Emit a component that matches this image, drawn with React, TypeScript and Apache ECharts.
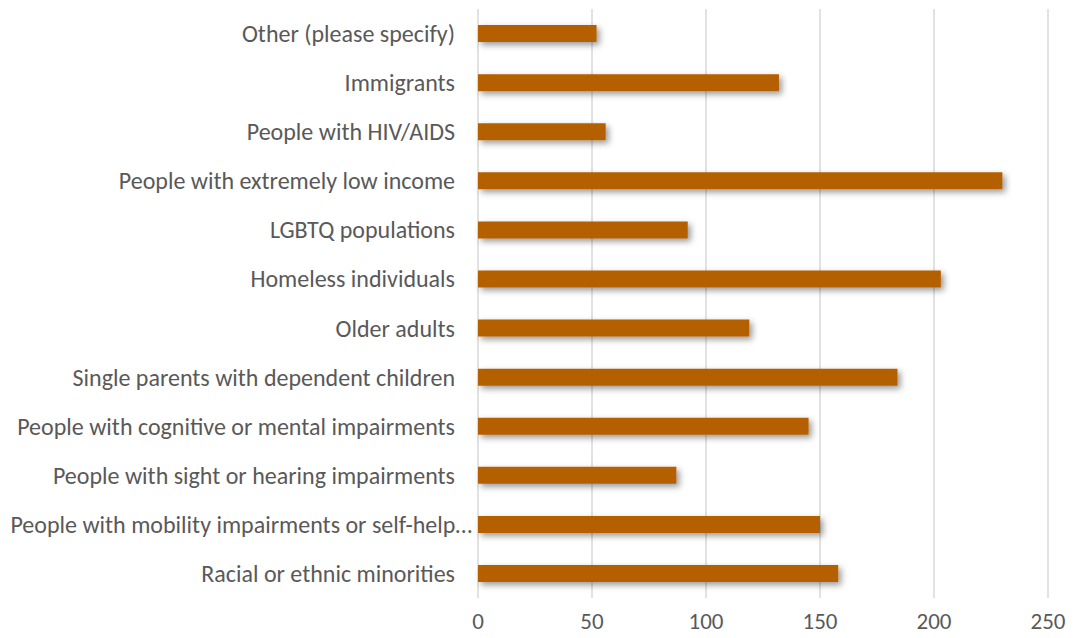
import React, { useEffect, useRef } from "react";
import * as echarts from "echarts";

// Categories listed bottom-to-top (category axis on y draws first item at the bottom)
const categories: string[] = [
  "Racial or ethnic minorities",
  "People with mobility impairments or self-help…",
  "People with sight or hearing impairments",
  "People with cognitive or mental impairments",
  "Single parents with dependent children",
  "Older adults",
  "Homeless individuals",
  "LGBTQ populations",
  "People with extremely low income",
  "People with HIV/AIDS",
  "Immigrants",
  "Other (please specify)",
];

const counts: number[] = [158, 150, 87, 145, 184, 119, 203, 92, 230, 56, 132, 52];

const xTicks: number[] = [0, 50, 100, 150, 200, 250];

const FONT = "Carlito, Calibri, Lato, 'Open Sans', sans-serif";
const TEXT_COLOR = "#595959";
const BAR_COLOR = "#B45F06";
const OVERFLOW_LABEL = "People with mobility impairments or self-help…";

export default function App() {
  const ref = useRef<HTMLDivElement>(null);

  useEffect(() => {
    if (!ref.current) return;
    const chart = echarts.init(ref.current, undefined, { renderer: "svg" });
    chart.setOption({
      animation: false,
      backgroundColor: "#ffffff",
      grid: { left: 478, right: 34, top: 9, bottom: 40, containLabel: false },
      xAxis: {
        type: "value",
        min: xTicks[0],
        max: xTicks[xTicks.length - 1],
        interval: 50,
        axisLine: { show: false },
        axisTick: { show: false },
        splitLine: { show: true, lineStyle: { color: "#D9D9D9", width: 1.5 } },
        axisLabel: {
          color: TEXT_COLOR,
          fontFamily: FONT,
          fontSize: 23,
          margin: 11,
        },
      },
      yAxis: {
        type: "category",
        data: categories,
        axisLine: { show: false },
        axisTick: { show: false },
        splitLine: { show: false },
        axisLabel: {
          color: TEXT_COLOR,
          fontFamily: FONT,
          fontSize: 24,
          margin: 6,
          formatter: (v: string) => (v === OVERFLOW_LABEL ? `{b|${v}}` : `{a|${v}}`),
          rich: {
            a: {
              color: TEXT_COLOR,
              fontFamily: FONT,
              fontSize: 24,
              padding: [0, 17, 0, 0],
            },
            b: {
              color: TEXT_COLOR,
              fontFamily: FONT,
              fontSize: 24,
            },
          },
        },
      },
      series: [
        {
          type: "bar",
          data: counts,
          barWidth: 17,
          itemStyle: {
            color: BAR_COLOR,
            shadowColor: "rgba(0,0,0,0.4)",
            shadowBlur: 6,
            shadowOffsetX: 3,
            shadowOffsetY: 3,
          },
        },
      ],
    });
    return () => chart.dispose();
  }, []);

  return <div ref={ref} style={{ width: 1082, height: 638, position: "absolute", left: 0, top: 0 }} />;
}
